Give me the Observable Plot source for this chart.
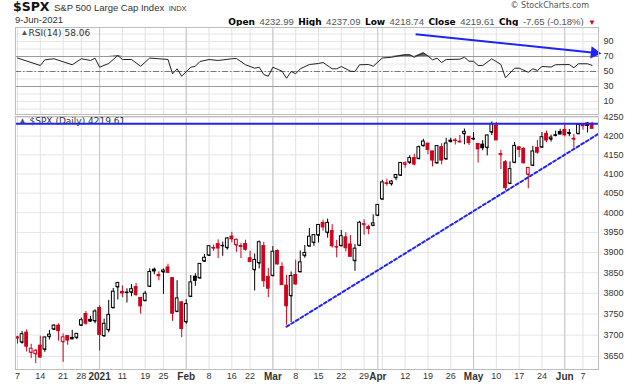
<!DOCTYPE html>
<html><head><meta charset="utf-8">
<script src="https://cdn.jsdelivr.net/npm/d3@7"></script>
<script src="https://cdn.jsdelivr.net/npm/@observablehq/plot@0.6"></script>
<style>
html,body{margin:0;padding:0;background:#fff;}
#wrap{position:relative;width:638px;height:384px;overflow:hidden;background:#fff;font-family:"Liberation Sans",Arial,sans-serif;}
.abs{position:absolute;white-space:nowrap;}
#rsi{position:absolute;left:0;top:26px;}
#price{position:absolute;left:0;top:115px;}
.lb{font-family:"DejaVu Sans";font-weight:bold;font-size:9px;color:#000;}
.vl{font-size:9.5px;color:#555;}
</style></head><body>
<div id="wrap">
  <div class="abs" style="left:13px;top:-1px;line-height:14px;"><span style="font-weight:bold;font-size:12.5px;font-family:'DejaVu Sans';color:#111">$SPX</span> <span style="font-size:9.5px;color:#333">S&amp;P 500 Large Cap Index</span> <span style="font-size:7.5px;color:#333">INDX</span></div>
  <div class="abs" style="right:49px;top:0px;line-height:12px;font-family:'DejaVu Sans';font-size:8px;color:#555">© StockCharts.com</div>
  <div class="abs" style="left:15px;top:14px;line-height:12px;font-size:9.5px;color:#333">9-Jun-2021</div>
  <div class="abs" style="right:42px;top:14px;line-height:12px;"><span class="lb">Open</span> <span class="vl">4232.99</span> <span class="lb">High</span> <span class="vl">4237.09</span> <span class="lb">Low</span> <span class="vl">4218.74</span> <span class="lb">Close</span> <span class="vl">4219.61</span> <span class="lb">Chg</span> <span class="vl">-7.65 (-0.18%)</span> <span style="color:#d0021b;font-size:8px">▼</span></div>
  <div id="rsi"></div>
  <div id="price"></div>
</div>
<script>
// ---- Data: S&P 500 daily OHLC, 7-Dec-2020 .. 9-Jun-2021 (trading days) ----
const prevClose = 3699.12;
const open = [3694.73,3683.05,3705.98,3659.13,3656.08,3675.27,3666.41,3696.25,3713.65,3722.39,3684.28,3698.08,3693.42,3694.03,3723.03,3750.01,3736.19,3733.27,
3764.61,3698.02,3712.20,3764.71,3815.05,3803.14,3801.62,3802.23,3814.98,3788.73,3781.88,3816.22,3857.46,3844.24,3851.68,3862.96,3836.83,3755.75,3778.05,
3731.17,3791.84,3840.27,3836.66,3878.30,3892.59,3910.49,3920.78,3916.40,3911.65,3939.61,3918.50,3915.86,3921.16,3885.55,3857.07,3873.71,3915.80,3839.66,
3842.51,3903.64,3863.99,3818.53,3793.58,3844.39,3851.93,3891.99,3915.54,3924.52,3942.96,3973.59,3949.57,3953.50,3913.14,3916.48,3937.60,3919.93,3879.34,3917.12,3969.31,3963.34,3967.25,
3992.78,4034.44,4075.57,4074.29,4089.95,4096.11,4124.71,4130.10,4141.58,4139.76,4174.14,4179.80,4159.18,4128.42,4170.46,4138.78,4185.03,4188.25,4185.14,4206.14,4198.10,
4191.98,4179.04,4177.06,4169.14,4210.34,4228.29,4150.34,4130.55,4074.99,4129.58,4169.92,4165.94,4098.45,4121.97,4168.61,4170.16,4205.94,4191.59,4201.94,4210.77,
4216.52,4206.82,4191.43,4206.05,4229.34,4233.81,4232.99];
const high = [3697.41,3708.45,3712.39,3678.49,3665.91,3697.61,3695.29,3711.27,3725.12,3726.70,3702.90,3698.26,3711.24,3703.82,3740.51,3756.12,3744.63,3760.20,
3769.99,3737.83,3783.04,3811.55,3826.69,3817.86,3810.78,3820.96,3823.60,3788.73,3804.53,3859.75,3861.45,3852.31,3859.23,3870.90,3836.83,3830.50,3778.05,
3784.32,3843.09,3847.51,3872.42,3894.56,3915.77,3918.35,3931.50,3925.99,3937.23,3950.43,3933.61,3921.98,3930.41,3902.92,3895.98,3928.65,3925.02,3861.08,
3914.50,3906.41,3874.47,3843.67,3851.69,3881.06,3903.76,3917.35,3960.27,3944.99,3970.08,3981.04,3983.87,3969.62,3930.12,3955.31,3949.13,3942.08,3919.54,3978.19,3981.83,3968.01,3994.41,
4020.63,4083.42,4086.23,4083.13,4098.19,4129.48,4131.76,4148.00,4151.69,4173.49,4191.31,4180.81,4159.18,4175.02,4179.57,4194.17,4194.19,4193.35,4201.53,4218.78,4198.10,
4209.39,4179.04,4187.72,4202.70,4238.04,4236.39,4162.04,4134.73,4131.58,4183.13,4171.92,4169.15,4116.93,4172.80,4188.72,4209.52,4213.42,4202.61,4213.38,4218.36,
4234.12,4217.37,4204.39,4233.45,4232.34,4236.74,4237.09];
const low = [3678.88,3678.83,3660.54,3645.18,3633.40,3645.84,3659.62,3688.57,3710.87,3685.84,3636.48,3676.16,3689.28,3689.32,3723.03,3723.31,3730.21,3726.88,
3662.71,3695.07,3705.34,3764.71,3783.60,3789.02,3776.51,3791.50,3792.86,3749.62,3780.37,3816.22,3845.05,3830.41,3797.16,3847.78,3732.48,3755.75,3694.12,
3725.62,3791.84,3816.68,3836.66,3874.93,3892.59,3902.64,3884.94,3890.39,3905.78,3923.85,3900.43,3885.03,3903.07,3874.71,3805.59,3859.60,3814.04,3789.54,
3842.51,3868.57,3818.86,3723.34,3730.19,3819.25,3851.93,3885.73,3915.54,3915.21,3923.54,3953.44,3935.74,3910.86,3886.75,3914.16,3901.57,3889.07,3853.50,3917.12,3943.25,3944.35,3966.98,
3992.78,4034.44,4068.14,4068.31,4082.54,4095.51,4114.82,4124.43,4120.87,4139.76,4170.75,4150.47,4118.38,4126.35,4123.69,4138.78,4182.36,4176.22,4181.78,4176.81,4174.85,
4188.03,4128.59,4160.94,4147.33,4201.64,4188.13,4111.53,4056.88,4074.99,4129.58,4142.69,4125.99,4061.41,4121.97,4151.72,4170.16,4182.52,4184.11,4197.78,4203.57,
4197.59,4198.27,4167.93,4206.05,4215.66,4208.41,4218.74];
const close = [3691.96,3702.25,3672.82,3668.10,3663.46,3647.49,3694.62,3701.17,3722.48,3709.41,3694.92,3687.26,3690.01,3703.06,3735.36,3727.04,3732.04,3756.07,
3700.65,3726.86,3748.14,3803.79,3824.68,3799.61,3801.19,3809.84,3795.54,3768.25,3798.91,3851.85,3853.07,3841.47,3855.36,3849.62,3750.77,3787.38,3714.24,
3773.86,3826.31,3830.17,3871.74,3886.83,3915.59,3911.23,3909.88,3916.38,3934.83,3932.59,3931.33,3913.97,3906.71,3876.50,3881.37,3925.43,3829.34,3811.15,
3901.82,3870.29,3819.72,3768.47,3841.94,3821.35,3875.44,3898.81,3939.34,3943.34,3968.94,3962.71,3974.12,3915.46,3913.10,3940.59,3910.52,3889.14,3909.52,3974.54,3971.09,3958.55,3972.89,
4019.87,4077.91,4073.94,4079.95,4097.17,4128.80,4127.99,4141.59,4124.66,4170.42,4185.47,4163.26,4134.94,4173.42,4134.98,4180.17,4187.62,4186.72,4183.18,4211.47,4181.17,
4192.66,4164.66,4167.59,4201.62,4232.60,4188.43,4152.10,4063.04,4112.50,4173.85,4163.29,4127.83,4115.68,4159.12,4155.86,4197.05,4188.13,4195.99,4200.88,4204.11,
4202.04,4208.12,4192.85,4229.89,4226.52,4227.26,4219.61];

// RSI(14) (trading-day index, value)
const rsiDay = [0,5,6,8,12,14,16,17,18,20,22,23,25,27,29,31,33,34,35,36,38,39,40,42,44,47,48,50,52,53,54,55,56,58,59,60,61,62,64,66,67,69,70,71,73,74,75,77,78,80,82,85,86,87,89,90,91,92,93,94,97,98,99,100,101,102,104,106,107,109,110,112,113,114,115,117,118,121,122,123,125,126];
const rsiVal = [68,58,65.6,67,59,67,64.7,67.7,55.7,60.7,71.3,66,66,57,68,67,66,46.9,53.6,43.7,55.7,57,63.3,66,64.7,67,67.3,59,54.4,55.7,46,43.7,55.7,50.4,41,50,47,53.6,59.3,60.7,62,53.6,53.6,56.7,50.4,50,59,59.3,57,68,69,72.3,72.3,69,75,70.7,65.6,67.7,62,66,66.4,69,63.7,63.7,58,58,67,59.3,41.6,54.4,54.4,49,53.6,51.3,56.7,56,59,59.3,55,60.3,60.3,58.06];

// Axis ticks (trading-day index) and labels
const tickIdx = [0,5,10,14,18,23,28,32,37,42,47,51,56,61,66,71,76,79,85,90,95,100,105,110,115,120,124];
const tickLabels = ["7","14","21","28","2021","11","19","25","Feb","8","16","22","Mar","8","15","22","29","Apr","12","19","26","May","10","17","24","Jun","7"];
const weekIdx = [0,5,10,14,18,23,28,32,37,42,47,51,56,61,66,71,76,80,85,90,95,100,105,110,115,120,124];
const monthIdx = [18,37,56,79,100,120];
const monthLabels = ["2021","Feb","Mar","Apr","May","Jun"];
const priceTicks = [3650,3700,3750,3800,3850,3900,3950,4000,4050,4100,4150,4200,4250];
const rsiTicks = [10,30,50,70,90];
const rsiGrid = [0,10,20,30,40,50,60,70,80,90,100];

// Annotations (data units)
const resistance = [4233];
const trendLine = [{i:59, p:3720},{i:127.4, p:4206}];
const rsiArrow = [{i1:87.3, v1:99.6, i2:126.5, v2:75}];

// ---- Build ----
const RED = "#d0021b", BLK = "#000", BLUE = "#1f24f5";
const rows = close.map((c,i)=>{
  const prev = i===0 ? prevClose : close[i-1];
  const col = c >= prev ? BLK : RED;
  return {i, o:open[i], h:high[i], l:low[i], c, col, fill: c > open[i] ? "#fff" : col};
});
const rsiPts = rsiDay.map((d,k)=>({i:d, v:rsiVal[k]}));
const xDom = [-0.44, 127.4];
const font = "'Liberation Sans', Arial, sans-serif";

const rsiPlot = Plot.plot({
  width:638, height:89, marginLeft:15, marginRight:40, marginTop:1, marginBottom:1,
  x:{domain:xDom, axis:null},
  y:{domain:[-7.33,108.67], axis:"right", ticks:rsiTicks, tickSize:0, tickPadding:5, label:null},
  color:{type:"identity"},
  style:{fontFamily:font, fontSize:"9px", color:"#333", background:"#fff", overflow:"visible"},
  marks:[
    Plot.ruleY(rsiGrid, {stroke:"#e6e6e6"}),
    Plot.ruleX(weekIdx, {stroke:"#e2e2e2"}),
    Plot.ruleX(monthIdx, {stroke:"#c4c4c4"}),
    Plot.ruleY([30,70], {stroke:"#9a9a9a"}),
    Plot.ruleY([50], {stroke:"#777", strokeDasharray:"6,2,1.5,2"}),
    Plot.areaY(rsiPts, {x:"i", y1:70, y2:d=>Math.max(70,d.v), fill:"#666"}),
    Plot.line(rsiPts, {x:"i", y:"v", stroke:"#222", strokeWidth:1}),
    Plot.text(["▲"], {frameAnchor:"top-left", dx:5, dy:2, lineAnchor:"top", textAnchor:"start", fontSize:8, fill:"#555"}),
    Plot.text([`RSI(14) ${rsiVal[rsiVal.length-1]}`], {frameAnchor:"top-left", dx:13, dy:2, lineAnchor:"top", textAnchor:"start", fontSize:9, fontFamily:"DejaVu Sans", fill:"#333"}),
    Plot.link(rsiArrow, {x1:"i1", y1:"v1", x2:"i2", y2:"v2", stroke:BLUE, strokeWidth:2}),
    Plot.dot(rsiArrow, {x:"i2", y:"v2", symbol:"triangle", r:4.5, fill:BLUE, rotate:96}),
    Plot.frame({stroke:"#bdbdbd"})
  ]
});
document.getElementById("rsi").appendChild(rsiPlot);

const pricePlot = Plot.plot({
  width:638, height:269, marginLeft:15, marginRight:40, marginTop:1, marginBottom:15,
  x:{domain:xDom, ticks:tickIdx, tickFormat:i=>tickLabels[tickIdx.indexOf(i)], tickSize:0, tickPadding:3, label:null},
  y:{type:"log", domain:[3619.9,4252.7], axis:"right", ticks:priceTicks, tickFormat:d=>String(d), tickSize:0, tickPadding:5, label:null},
  color:{type:"identity"},
  style:{fontFamily:font, fontSize:"9px", color:"#333", background:"#fff", overflow:"visible"},
  marks:[
    Plot.ruleY(priceTicks, {stroke:"#e6e6e6"}),
    Plot.ruleX(weekIdx, {stroke:"#e2e2e2"}),
    Plot.ruleX(monthIdx, {stroke:"#c4c4c4"}),
    Plot.text(["▲"], {frameAnchor:"top-left", dx:3, dy:1, lineAnchor:"top", textAnchor:"start", fontSize:8, fill:"#555"}),
    Plot.text([`$SPX (Daily) ${close[close.length-1]}`], {frameAnchor:"top-left", dx:14, dy:1, lineAnchor:"top", textAnchor:"start", fontSize:9, fontFamily:"DejaVu Sans", fill:"#333"}),
    Plot.ruleX(rows, {x:"i", y1:"l", y2:"h", stroke:"col", strokeWidth:1}),
    Plot.rect(rows, {x1:d=>d.i-0.3, x2:d=>d.i+0.3, y1:d=>Math.min(d.o,d.c), y2:d=>Math.max(d.o,d.c), fill:"fill", stroke:"col", strokeWidth:1}),
    Plot.link(rows, {x1:d=>d.i-0.3, x2:d=>d.i+0.3, y1:"o", y2:"o", stroke:"col", strokeWidth:1}),
    Plot.ruleY(resistance, {stroke:BLUE, strokeWidth:2}),
    Plot.line(trendLine, {x:"i", y:"p", stroke:BLUE, strokeWidth:2, strokeDasharray:"3,2.5"}),
    Plot.frame({stroke:"#bdbdbd"})
  ]
});
pricePlot.querySelectorAll("text").forEach(t=>{
  if (monthLabels.includes(t.textContent)) { t.setAttribute("font-weight","bold"); t.setAttribute("font-size","10"); }
});
document.getElementById("price").appendChild(pricePlot);
</script>
</body></html>
